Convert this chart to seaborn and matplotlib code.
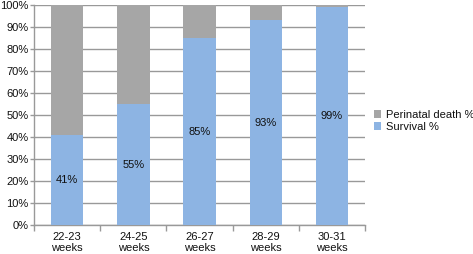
import numpy as np
import pandas as pd
import matplotlib
matplotlib.use("Agg")
import matplotlib.pyplot as plt
import seaborn as sns
from matplotlib.patches import Patch
from matplotlib.ticker import FixedLocator, PercentFormatter

categories = ["22-23\nweeks", "24-25\nweeks", "26-27\nweeks", "28-29\nweeks", "30-31\nweeks"]
survival = [41, 55, 85, 93, 99]
perinatal_death = [59, 45, 15, 7, 1]

df = pd.DataFrame({"group": categories, "survival": survival, "death": perinatal_death})
df["total"] = df["survival"] + df["death"]

blue = "#8db4e3"
gray = "#a6a6a6"

sns.set_style("white")
plt.rcParams["font.family"] = ["Liberation Sans", "DejaVu Sans"]

fig = plt.figure(figsize=(4.73, 2.54), dpi=100)
ax = fig.add_axes([0.072, 0.114, 0.700, 0.866])

sns.barplot(data=df, x="group", y="total", color=gray, width=0.49,
            saturation=1, linewidth=0, ax=ax, zorder=2)
sns.barplot(data=df, x="group", y="survival", color=blue, width=0.49,
            saturation=1, linewidth=0, ax=ax, zorder=3)

# value labels centered in survival segment
for i, v in enumerate(df["survival"]):
    ax.text(i, v / 2, f"{v}%", ha="center", va="center", fontsize=8,
            color="#111111", zorder=4)

ax.set_ylim(0, 100)
ax.set_xlim(-0.5, len(categories) - 0.5)
ax.set_yticks(np.arange(0, 101, 10))
ax.yaxis.set_major_formatter(PercentFormatter(decimals=0))
ax.yaxis.grid(True, color="#999999", linewidth=1, zorder=0)
ax.set_axisbelow(True)
ax.set_xlabel("")
ax.set_ylabel("")

for s in ["top", "right"]:
    ax.spines[s].set_visible(False)
for s in ["left", "bottom"]:
    ax.spines[s].set_color("#999999")
    ax.spines[s].set_linewidth(1)

ax.tick_params(axis="y", which="major", length=3, width=1, color="#999999",
               labelsize=8, pad=1, left=True, labelcolor="#111111")
ax.tick_params(axis="x", which="major", length=0, labelsize=8, pad=5,
               labelcolor="#111111")
for lbl in ax.get_xticklabels():
    lbl.set_linespacing(1.15)
ax.xaxis.set_minor_locator(FixedLocator(np.arange(-0.5, len(categories), 1.0)))
ax.tick_params(axis="x", which="minor", length=4, width=1, color="#999999",
               bottom=True)

handles = [Patch(facecolor=gray, edgecolor="none", label="Perinatal death %"),
           Patch(facecolor=blue, edgecolor="none", label="Survival %")]
fig.legend(handles=handles, loc="center left", bbox_to_anchor=(0.778, 0.525),
           frameon=False, fontsize=8, handlelength=0.7, handleheight=0.7,
           handletextpad=0.4, labelspacing=0.2, borderpad=0,
           labelcolor="#111111")

fig.savefig("out.png", dpi=100)
